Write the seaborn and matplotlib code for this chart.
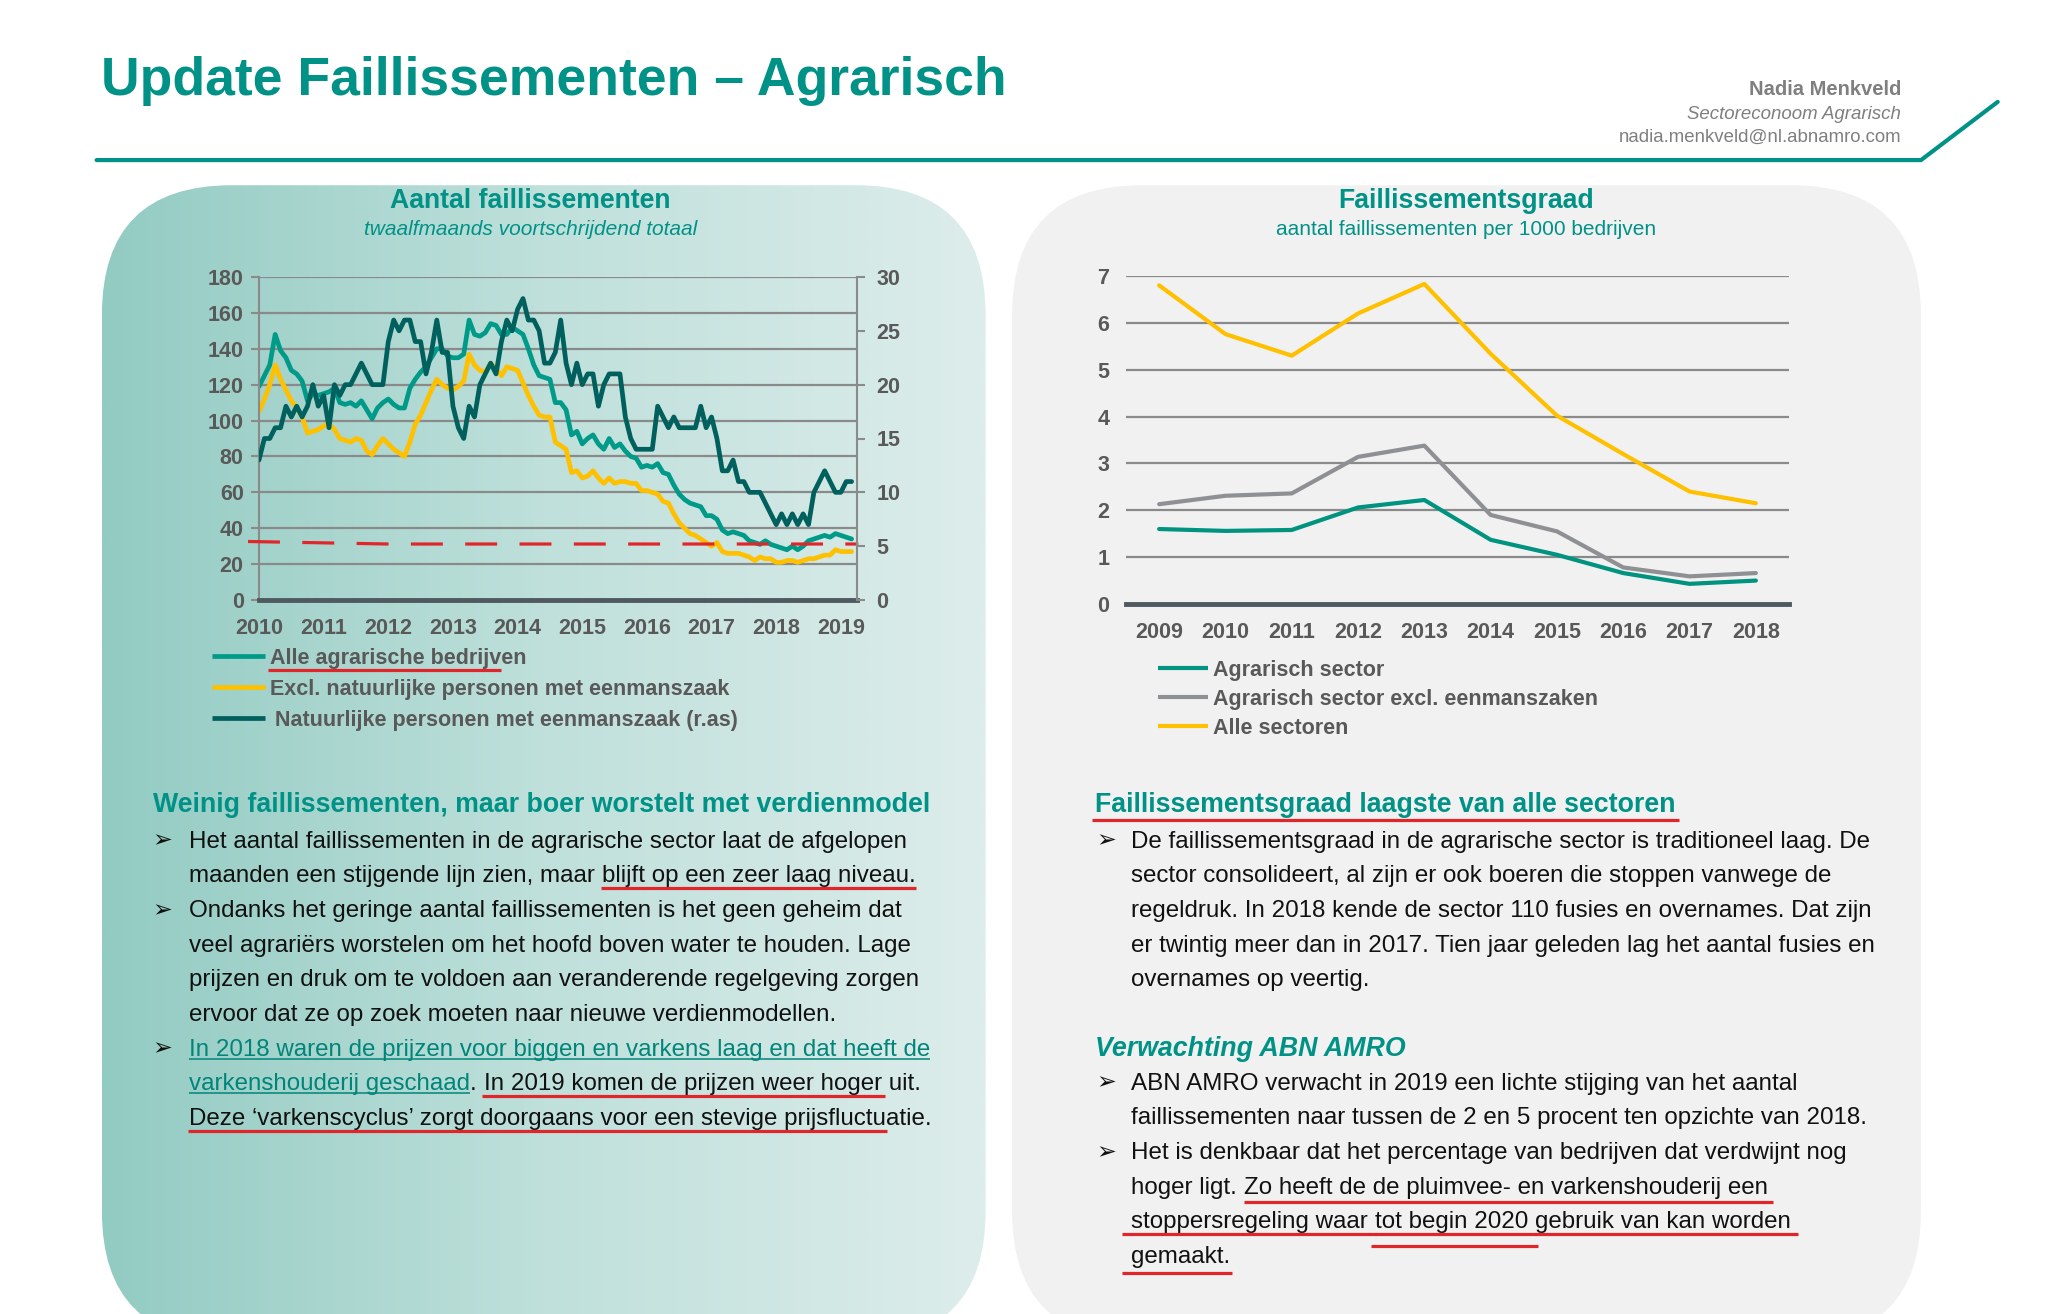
import numpy as np
import pandas as pd
import matplotlib
matplotlib.use("Agg")
import matplotlib.pyplot as plt
import seaborn as sns
from matplotlib.patches import FancyBboxPatch
from matplotlib.font_manager import FontProperties
from matplotlib.colors import LinearSegmentedColormap

# ---------------- data: left chart (monthly, Jan 2010 - Mar 2019) ----------------
start_year = 2010
alle_agrarisch = [
    119, 125, 131, 148, 139, 135, 128, 126, 122, 111, 115, 114,   # 2010
    115, 116, 118, 110, 109, 110, 108, 111, 106, 101, 107, 110,   # 2011
    112, 109, 107, 107, 118, 123, 127, 130, 135, 140, 140, 136,   # 2012
    135, 135, 137, 156, 148, 147, 149, 154, 153, 148, 148, 152,   # 2013
    150, 148, 140, 131, 125, 124, 123, 110, 110, 106, 92, 94,     # 2014
    87, 90, 92, 87, 84, 90, 85, 87, 83, 80, 79, 74,               # 2015
    75, 74, 76, 71, 70, 64, 59, 56, 54, 53, 52, 47,               # 2016
    47, 45, 39, 37, 38, 37, 36, 33, 32, 31, 33, 31,               # 2017
    30, 29, 28, 30, 28, 30, 33, 34, 35, 36, 35, 37,               # 2018
    36, 35, 34]                                                   # 2019
excl_natuurlijk = [
    105, 112, 120, 131, 123, 117, 111, 107, 102, 93, 94, 95,
    97, 98, 95, 90, 89, 88, 90, 89, 83, 81, 86, 90,
    87, 84, 82, 80, 88, 98, 103, 110, 117, 123, 120, 118,
    117, 119, 122, 137, 131, 128, 127, 132, 129, 125, 130, 129,
    128, 121, 114, 108, 103, 102, 102, 88, 86, 84, 71, 72,
    68, 69, 72, 68, 65, 68, 65, 66, 66, 65, 65, 61,
    61, 60, 59, 55, 54, 48, 43, 40, 37, 36, 34, 32,
    30, 32, 27, 26, 26, 26, 25, 24, 22, 24, 23, 23,
    21, 21, 22, 22, 21, 22, 23, 23, 24, 25, 25, 28,
    27, 27, 27]
natuurlijk_eenmanszaak = [
    13, 15, 15, 16, 16, 18, 17, 18, 17, 18, 20, 18,
    19, 16, 20, 19, 20, 20, 21, 22, 21, 20, 20, 20,
    24, 26, 25, 26, 26, 24, 24, 21, 23, 26, 23, 23,
    18, 16, 15, 18, 17, 20, 21, 22, 21, 24, 26, 25,
    27, 28, 26, 26, 25, 22, 22, 23, 26, 22, 20, 22,
    20, 21, 21, 18, 20, 21, 21, 21, 17, 15, 14, 14,
    14, 14, 18, 17, 16, 17, 16, 16, 16, 16, 18, 16,
    17, 15, 12, 12, 13, 11, 11, 10, 10, 10, 9, 8,
    7, 8, 7, 8, 7, 8, 7, 10, 11, 12, 11, 10,
    10, 11, 11]
year_ticks = list(range(2010, 2020))
left_ticks = list(range(0, 181, 20))
right_ticks = list(range(0, 31, 5))
red_ref_x = [2009.83, 2012.0, 2019.27]
red_ref_y = [32.6, 31.2, 31.2]
legend_left = ["Alle agrarische bedrijven",
               "Excl. natuurlijke personen met eenmanszaak",
               "Natuurlijke personen met eenmanszaak (r.as)"]

# ---------------- data: right chart ----------------
graad_jaren = ['2009', '2010', '2011', '2012', '2013', '2014', '2015', '2016', '2017', '2018']
graad_agrarisch = [1.60, 1.56, 1.58, 2.06, 2.22, 1.37, 1.05, 0.66, 0.43, 0.50]
graad_agr_excl = [2.13, 2.31, 2.36, 3.14, 3.38, 1.90, 1.55, 0.78, 0.59, 0.66]
graad_alle = [6.80, 5.76, 5.30, 6.20, 6.83, 5.34, 4.02, 3.20, 2.40, 2.15]
graad_ticks = list(range(0, 8))
legend_right = ["Agrarisch sector", "Agrarisch sector excl. eenmanszaken", "Alle sectoren"]

# ---------------- colours ----------------
TEAL_T = "#009286"
TEAL = "#009A88"
DARK = "#00605E"
YELLOW = "#FFC000"
GRAYL = "#8E9094"
GRID = "#8A8A8A"
AXDARK = "#4F5A60"
LBL = "#595959"
RED = "#E0262B"
LINK = "#00857A"
BLACK = "#111111"
AUTH = "#7F7F7F"

W, H = 2072, 1314
K = 1.323          # layout scale (reference sketch units -> pixels)


def P(v):
    return v * K


sns.set_style("white")
plt.rcParams['font.family'] = ['Liberation Sans', 'DejaVu Sans']

fig = plt.figure(figsize=(W / 100, H / 100), dpi=100)
bg = fig.add_axes([0, 0, 1, 1])
bg.set_zorder(0)
bg.axis('off')

# panels
R = 130
lx0, lx1, top = P(77), P(745), P(140)
rx0, rx1 = P(765), P(1452)
bottom = 1341
left_panel = FancyBboxPatch((lx0, top), lx1 - lx0, bottom - top,
                            boxstyle=f"round,pad=0,rounding_size={R}",
                            facecolor='none', edgecolor='none')
bg.add_patch(left_panel)
cmap = LinearSegmentedColormap.from_list("g", ["#92CBC2", "#BFE0DB", "#DDEDEB"])
grad = np.linspace(0, 1, 512)[None, :]
im = bg.imshow(grad, cmap=cmap, extent=[lx0, lx1, bottom, top], aspect='auto', zorder=1,
               interpolation='bilinear')
im.set_clip_path(left_panel)
right_panel = FancyBboxPatch((rx0, top), rx1 - rx0, bottom - top,
                             boxstyle=f"round,pad=0,rounding_size={R}",
                             facecolor='#F1F1F1', edgecolor='none', zorder=1)
bg.add_patch(right_panel)
bg.set_xlim(0, W)
bg.set_ylim(H, 0)

# header
bg.text(P(76), P(72), "Update Faillissementen \u2013 Agrarisch", fontsize=38.5, fontweight='bold',
        color=TEAL_T, va='baseline', ha='left', zorder=3)
bg.text(P(1437), P(72), "Nadia Menkveld", fontsize=14.5, fontweight='bold', color=AUTH,
        ha='right', va='baseline', zorder=3)
bg.text(P(1437), P(90), "Sectoreconoom Agrarisch", fontsize=13.4, style='italic', color=AUTH,
        ha='right', va='baseline', zorder=3)
bg.text(P(1437), P(107), "nadia.menkveld@nl.abnamro.com", fontsize=13.4, color=AUTH,
        ha='right', va='baseline', zorder=3)
bg.plot([P(73), P(1452), P(1510)], [P(121), P(121), P(77)], color=TEAL_T, lw=3,
        solid_joinstyle='miter', zorder=3)


def px_axes(x0, y0, x1, y1):
    return fig.add_axes([x0 / W, 1 - y1 / H, (x1 - x0) / W, (y1 - y0) / H])


# ---------------- left chart ----------------
t = start_year + np.arange(len(alle_agrarisch)) / 12.0
dfl = pd.DataFrame({'t': t, 'alle': alle_agrarisch, 'excl': excl_natuurlijk,
                    'nat': natuurlijk_eenmanszaak})
axL = px_axes(259, 277, 857, 600)
axL.set_zorder(2)
axL.patch.set_visible(False)
sns.lineplot(data=dfl, x='t', y='alle', ax=axL, color=TEAL, lw=3.4)
sns.lineplot(data=dfl, x='t', y='excl', ax=axL, color=YELLOW, lw=3.4)
axR = axL.twinx()
axR.set_zorder(3)
axR.patch.set_visible(False)
sns.lineplot(data=dfl, x='t', y='nat', ax=axR, color=DARK, lw=3.4)
axL.plot(red_ref_x, red_ref_y, color=RED, lw=2.3, ls=(0, (10, 7)), clip_on=False, zorder=5)

axL.set_xlim(start_year, start_year + len(alle_agrarisch) / 12.0)
axL.set_ylim(0, 180)
axR.set_ylim(0, 30)
axL.set_xticks(year_ticks, [str(y) for y in year_ticks])
axL.set_yticks(left_ticks, [str(v) for v in left_ticks])
axR.set_yticks(right_ticks, [str(v) for v in right_ticks])
axL.set_xlabel("")
axL.set_ylabel("")
axR.set_ylabel("")
axL.grid(False)
axR.grid(False)
axL.yaxis.grid(True, color=GRID, lw=1.6)
axL.set_axisbelow(True)
axL.tick_params(axis='x', direction='out', length=6, width=3, color=AXDARK, pad=7,
                labelsize=15.5, labelcolor=LBL)
axL.tick_params(axis='y', direction='out', length=6, width=1.5, color=GRID, pad=5,
                labelsize=15.5, labelcolor=LBL)
axR.tick_params(axis='y', direction='out', length=6, width=1.5, color=GRID, pad=8,
                labelsize=15.5, labelcolor=LBL)
for lab in axL.get_xticklabels() + axL.get_yticklabels() + axR.get_yticklabels():
    lab.set_fontweight('bold')
for s in ['top', 'right']:
    axL.spines[s].set_visible(False)
axL.spines['left'].set_color(GRID)
axL.spines['left'].set_linewidth(1.5)
axL.spines['bottom'].set_color(AXDARK)
axL.spines['bottom'].set_linewidth(3.5)
for s in ['top', 'left', 'bottom']:
    axR.spines[s].set_visible(False)
axR.spines['right'].set_color(GRID)
axR.spines['right'].set_linewidth(1.5)

# ---------------- right chart ----------------
xpos = np.arange(len(graad_jaren))
dfr = pd.DataFrame({'x': xpos, 'agr': graad_agrarisch, 'excl': graad_agr_excl, 'alle': graad_alle})
axG = px_axes(1126, 276, 1789, 604)
axG.set_zorder(2)
axG.patch.set_visible(False)
sns.lineplot(data=dfr, x='x', y='alle', ax=axG, color=YELLOW, lw=3.0)
sns.lineplot(data=dfr, x='x', y='excl', ax=axG, color=GRAYL, lw=3.0)
sns.lineplot(data=dfr, x='x', y='agr', ax=axG, color="#00937F", lw=3.0)
axG.set_xlim(-0.5, len(graad_jaren) - 0.5)
axG.set_ylim(0, 7)
axG.set_xticks(xpos, graad_jaren)
axG.set_xticks(np.arange(len(graad_jaren) + 1) - 0.5, minor=True)
axG.set_yticks(graad_ticks, [str(v) for v in graad_ticks])
axG.set_xlabel("")
axG.set_ylabel("")
axG.grid(False)
axG.yaxis.grid(True, color=GRID, lw=1.6)
axG.set_axisbelow(True)
axG.tick_params(axis='x', which='major', length=0, pad=13, labelsize=15.5, labelcolor=LBL)
axG.tick_params(axis='x', which='minor', direction='out', length=6, width=3, color=AXDARK)
axG.tick_params(axis='y', length=0, pad=12, labelsize=15.5, labelcolor=LBL)
for lab in axG.get_xticklabels() + axG.get_yticklabels():
    lab.set_fontweight('bold')
for s in ['top', 'right', 'left']:
    axG.spines[s].set_visible(False)
axG.spines['bottom'].set_color(AXDARK)
axG.spines['bottom'].set_linewidth(3.5)

# chart titles
bg.text(P(401), P(157), "Aantal faillissementen", fontsize=19.2, fontweight='bold', color=TEAL_T,
        ha='center', va='baseline', zorder=3)
bg.text(P(401), P(178), "twaalfmaands voortschrijdend totaal", fontsize=15.0, style='italic',
        color=TEAL_T, ha='center', va='baseline', zorder=3)
bg.text(P(1108), P(157), "Faillissementsgraad", fontsize=19.2, fontweight='bold', color=TEAL_T,
        ha='center', va='baseline', zorder=3)
bg.text(P(1108), P(178), "aantal faillissementen per 1000 bedrijven", fontsize=15.0,
        color=TEAL_T, ha='center', va='baseline', zorder=3)

renderer = fig.canvas.get_renderer()


def width(s, fp):
    if not s:
        return 0.0
    a = bg.text(0, 0, s + "|", fontproperties=fp)
    wa = a.get_window_extent(renderer).width
    a.remove()
    b = bg.text(0, 0, "|", fontproperties=fp)
    wb = b.get_window_extent(renderer).width
    b.remove()
    return wa - wb


# legends
fp_leg = FontProperties(family='Liberation Sans', size=15.5, weight='bold')
for i, (lab, col) in enumerate(zip(legend_left, [TEAL, YELLOW, DARK])):
    yc = P(496 + i * 23.5)
    bg.plot([P(160), P(200)], [yc, yc], color=col, lw=3.4, solid_capstyle='butt', zorder=3)
    xt = P(204) if i < 2 else P(208)
    bg.text(xt, yc + 7.5, lab, fontproperties=fp_leg, color=LBL, va='baseline', zorder=3)
    if i == 0:
        x1 = xt + width("Alle agrarische bedrijv", fp_leg)
        bg.plot([xt - 2, x1], [yc + 14, yc + 14], color=RED, lw=2.3, solid_capstyle='butt', zorder=3)
for i, (lab, col) in enumerate(zip(legend_right, ["#00937F", GRAYL, YELLOW])):
    yc = P(505 + i * 22)
    bg.plot([P(875), P(913)], [yc, yc], color=col, lw=3.0, solid_capstyle='butt', zorder=3)
    bg.text(P(917), yc + 7.5, lab, fontproperties=fp_leg, color=LBL, va='baseline', zorder=3)

# ---------------- text blocks ----------------
fp_body = FontProperties(family='Liberation Sans', size=17.4)
fp_head = FontProperties(family='Liberation Sans', size=19.3, weight='bold')
fp_head_i = FontProperties(family='Liberation Sans', size=19.3, weight='bold', style='italic')
fp_bul = FontProperties(family='DejaVu Sans', size=17)

UL_RED = dict(c=RED, off=6, lw=2.3, e0=1, e1=1)
UL_LINK = dict(c=LINK, off=3, lw=1.1, e0=0, e1=0)


def draw_line(x, yb, segs, fp, bullet_x=None):
    if bullet_x is not None:
        bg.text(bullet_x, yb, "\u27a2", fontproperties=fp_bul, color=BLACK, va='baseline', zorder=3)
    prefix = ""
    for seg in segs:
        s = seg[0]
        col = seg[1] if len(seg) > 1 and seg[1] else BLACK
        uls = seg[2] if len(seg) > 2 and seg[2] else []
        cx = x + width(prefix, fp)
        bg.text(cx, yb, s, fontproperties=fp, color=col, va='baseline', ha='left', zorder=3)
        for ul in uls:
            x1 = cx + width(s if ul.get('full') else s.rstrip(), fp)
            bg.plot([cx - ul['e0'], x1 + ul['e1']], [yb + ul['off']] * 2, color=ul['c'],
                    lw=ul['lw'], solid_capstyle='butt', zorder=3)
        prefix += s


LSTEP = P(26.2)

# left block
bg.text(P(116), P(608) + 8, "Weinig faillissementen, maar boer worstelt met verdienmodel",
        fontproperties=fp_head, color=TEAL_T, va='baseline', zorder=3)
left_lines = [
    (True, [("Het aantal faillissementen in de agrarische sector laat de afgelopen",)]),
    (False, [("maanden een stijgende lijn zien, maar ",), ("blijft op een zeer laag niveau.", None, [UL_RED])]),
    (True, [("Ondanks het geringe aantal faillissementen is het geen geheim dat",)]),
    (False, [("veel agrari\u00ebrs worstelen om het hoofd boven water te houden. Lage",)]),
    (False, [("prijzen en druk om te voldoen aan veranderende regelgeving zorgen",)]),
    (False, [("ervoor dat ze op zoek moeten naar nieuwe verdienmodellen.",)]),
    (True, [("In 2018 waren de prijzen voor biggen en varkens laag en dat heeft de", LINK, [UL_LINK])]),
    (False, [("varkenshouderij geschaad", LINK, [UL_LINK]), (". ",),
             ("In 2019 komen de prijzen weer hoger", None, [dict(UL_RED, e0=2, e1=3)]), (" uit.",)]),
    (False, [("Deze \u2018varkenscyclus\u2019 zorgt doorgaans voor een stevige prijsfluctu", None, [UL_RED]),
             ("atie.",)]),
]
for i, (bul, segs) in enumerate(left_lines):
    yb = P(635) + 7.5 + i * LSTEP
    draw_line(P(143), yb, segs, fp_body, bullet_x=P(115) if bul else None)

# right block
hx = P(828)
bg.text(hx, P(608) + 8, "Faillissementsgraad laagste van alle sectoren", fontproperties=fp_head,
        color=TEAL_T, va='baseline', zorder=3)
hw = width("Faillissementsgraad laagste van alle sectoren", fp_head)
bg.plot([hx - 3, hx + hw + 3], [P(620), P(620)], color=RED, lw=2.3, solid_capstyle='butt', zorder=3)
right_lines1 = [
    (True, [("De faillissementsgraad in de agrarische sector is traditioneel laag. De",)]),
    (False, [("sector consolideert, al zijn er ook boeren die stoppen vanwege de",)]),
    (False, [("regeldruk. In 2018 kende de sector 110 fusies en overnames. Dat zijn",)]),
    (False, [("er twintig meer dan in 2017. Tien jaar geleden lag het aantal fusies en",)]),
    (False, [("overnames op veertig.",)]),
]
for i, (bul, segs) in enumerate(right_lines1):
    yb = P(635) + 7.5 + i * LSTEP
    draw_line(P(855), yb, segs, fp_body, bullet_x=P(829) if bul else None)
bg.text(hx, P(792) + 8, "Verwachting ABN AMRO", fontproperties=fp_head_i, color=TEAL_T,
        va='baseline', zorder=3)
right_lines2 = [
    (True, [("ABN AMRO verwacht in 2019 een lichte stijging van het aantal",)]),
    (False, [("faillissementen naar tussen de 2 en 5 procent ten opzichte van 2018.",)]),
    (True, [("Het is denkbaar dat het percentage van bedrijven dat verdwijnt nog",)]),
    (False, [("hoger ligt. ",), ("Zo heeft de de pluimvee- en varkenshouderij een", None,
                               [dict(UL_RED, off=8, e0=0, e1=5)])]),
    (False, [("stoppersregeling waar ", None, [dict(UL_RED, e0=9, e1=1, full=True)]),
             ("tot begin 2020 ", None, [dict(UL_RED, e0=0, e1=1, full=True),
                                        dict(UL_RED, off=18, e0=4, e1=10)]),
             ("gebruik van kan worden", None, [dict(UL_RED, e0=0, e1=7)])]),
    (False, [("gemaakt.", None, [dict(UL_RED, off=10, e0=9, e1=2)])]),
]
for i, (bul, segs) in enumerate(right_lines2):
    yb = P(818) + 7.5 + i * LSTEP
    draw_line(P(855), yb, segs, fp_body, bullet_x=P(829) if bul else None)

fig.savefig("out.png", dpi=100)
